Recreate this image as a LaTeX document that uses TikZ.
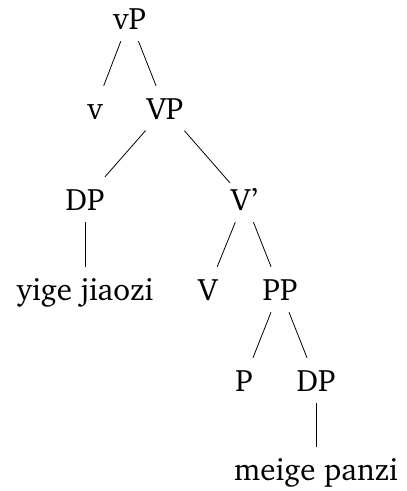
\documentclass[tikz,border=0pt]{standalone}
\usepackage[T1]{fontenc}
\usepackage{charter}
\begin{document}
\begin{tikzpicture}[x=1pt,y=-1pt,
  lab/.style={anchor=base,inner xsep=1pt,inner ysep=12pt,text height=21pt,text depth=0pt,
    font=\fontsize{31}{37}\selectfont},
  br/.style={line width=0.8pt}]
\useasboundingbox (0,0) rectangle (407,491);
\node[lab] (vP) at (129.5,29) {vP};
\node[lab] (v) at (95,119) {v};
\node[lab] (VP) at (165,119) {VP};
\node[lab] (DP1) at (85,210) {DP};
\node[lab] (Vbar) at (244.5,210) {V'};
\node[lab] (yige) at (85,300) {yige jiaozi};
\node[lab] (V) at (208,300) {V};
\node[lab] (PP) at (280,300) {PP};
\node[lab] (P) at (244,391) {P};
\node[lab] (DP2) at (316,391) {DP};
\node[lab] (meige) at (316,480) {meige panzi};
\draw[br] (vP) -- (v);
\draw[br] (vP) -- (VP);
\draw[br] (VP) -- (DP1);
\draw[br] (VP) -- (Vbar);
\draw[br] (DP1.south) -- (DP1.south |- yige.north);
\draw[br] (Vbar) -- (V);
\draw[br] (Vbar) -- (PP);
\draw[br] (PP) -- (P);
\draw[br] (PP) -- (DP2);
\draw[br] (DP2.south) -- (DP2.south |- meige.north);
\end{tikzpicture}
\end{document}
